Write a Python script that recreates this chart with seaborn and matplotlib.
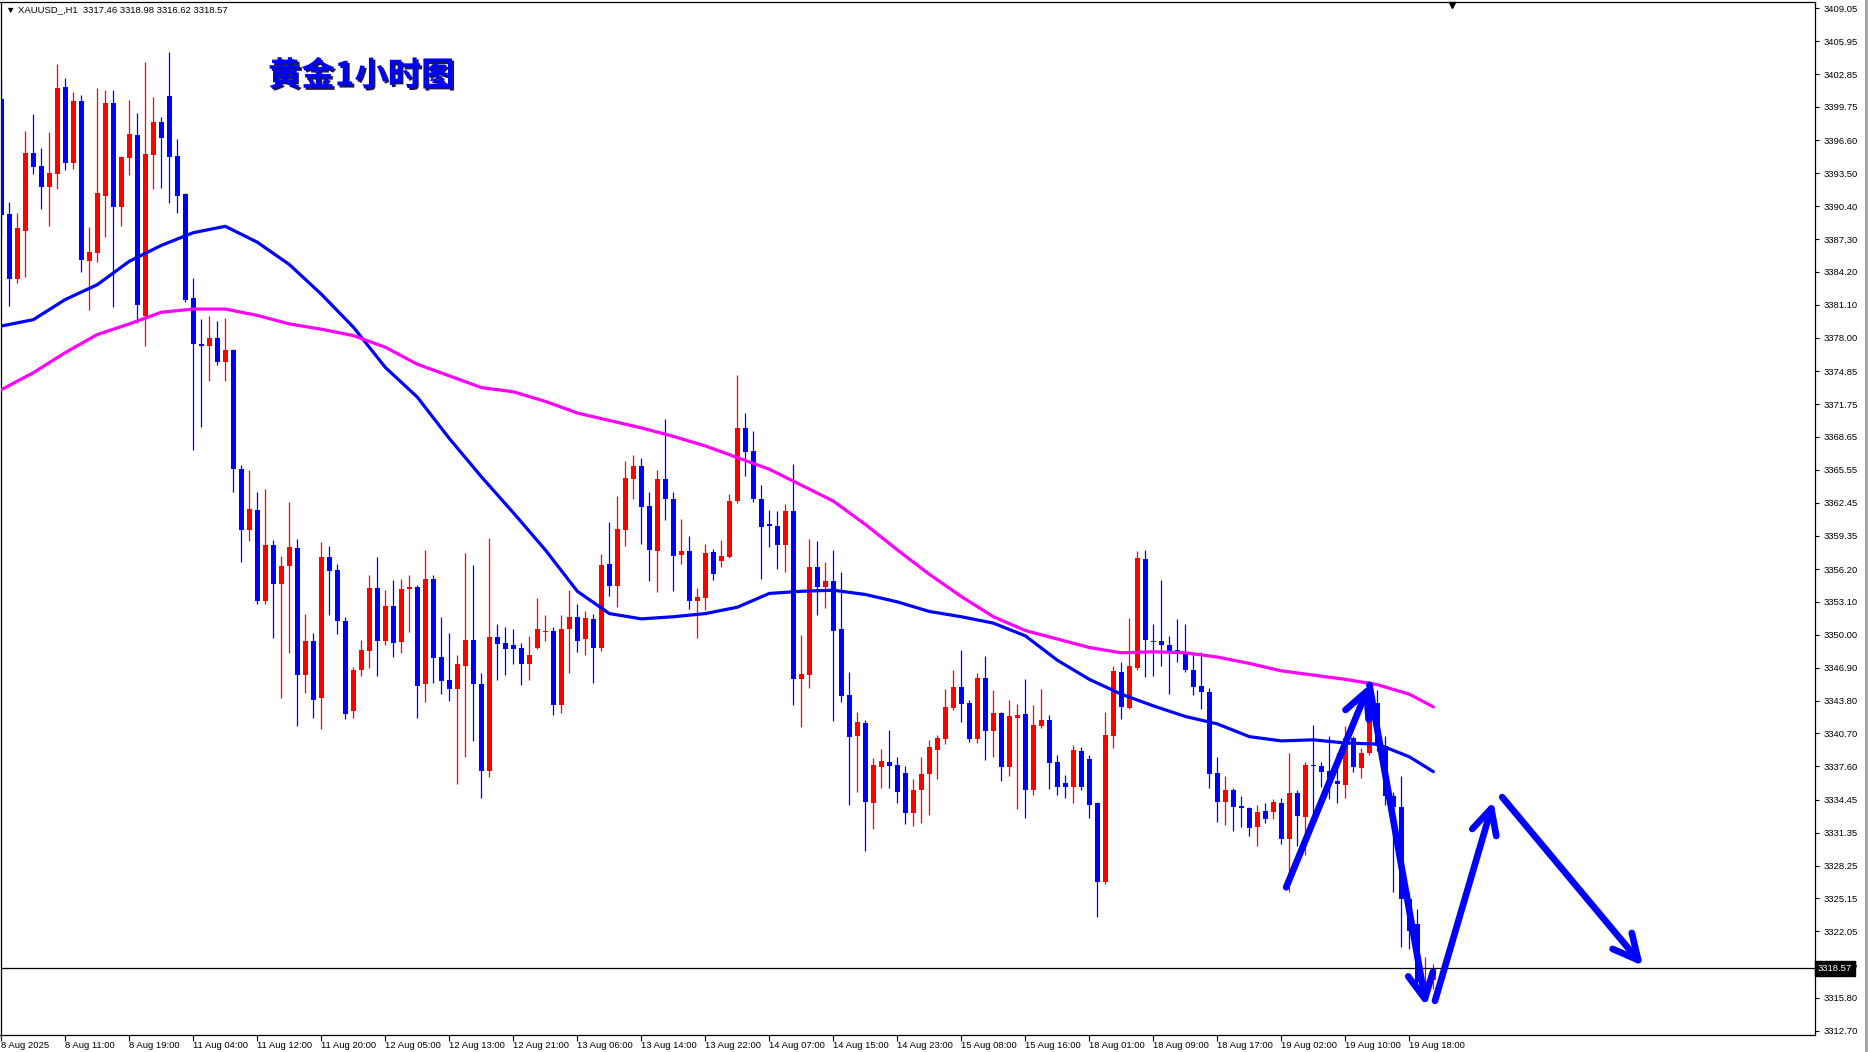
import numpy as np
import pandas as pd
import matplotlib
matplotlib.use("Agg")
import matplotlib.pyplot as plt
import matplotlib.patheffects as pe
import matplotlib.transforms as mtransforms
import seaborn as sns

# ---------------- data ----------------
opens = [3400.5, 3389.7, 3383.5, 3388.1, 3395.4, 3394.2, 3392.2, 3393.4, 3401.6, 3394.5,
         3400.3, 3385.2, 3386.0, 3391.4, 3400.1, 3390.3, 3394.9, 3397.1, 3380.0, 3395.2,
         3398.3, 3400.8, 3395.1, 3391.5, 3381.7, 3377.4, 3377.2, 3378.0, 3375.7, 3376.8,
         3365.6, 3359.9, 3361.8, 3353.2, 3358.5, 3354.8, 3356.5, 3358.2, 3346.2, 3349.4,
         3344.0, 3357.3, 3356.1, 3351.3, 3342.8, 3346.7, 3348.5, 3354.4, 3349.4, 3352.7,
         3349.3, 3354.3, 3354.5, 3345.4, 3355.3, 3347.9, 3345.7, 3344.9, 3347.1, 3349.5,
         3345.4, 3337.2, 3349.8, 3349.2, 3349.0, 3348.8, 3347.2, 3348.8, 3350.3, 3350.4,
         3343.4, 3350.5, 3351.7, 3349.6, 3351.5, 3348.8, 3356.7, 3354.6, 3359.9, 3364.7,
         3365.9, 3362.1, 3357.9, 3364.7, 3362.8, 3357.5, 3357.9, 3353.2, 3353.5, 3357.8,
         3357.0, 3357.3, 3362.6, 3369.5, 3367.3, 3362.8, 3360.4, 3360.3, 3358.5, 3361.7,
         3345.8, 3346.2, 3356.4, 3354.5, 3355.1, 3350.5, 3344.3, 3340.5, 3341.7, 3334.1,
         3337.5, 3338.0, 3337.7, 3337.0, 3333.2, 3335.4, 3336.9, 3339.1, 3340.2, 3343.1,
         3345.1, 3343.6, 3340.2, 3345.9, 3340.9, 3342.6, 3337.5, 3342.2, 3342.5, 3335.4,
         3341.4, 3342.0, 3338.0, 3336.0, 3335.7, 3339.0, 3338.3, 3334.1, 3326.7, 3340.5,
         3346.5, 3343.1, 3346.9, 3357.1, 3349.4, 3349.4, 3349.0, 3348.6, 3348.2, 3346.7,
         3345.2, 3344.6, 3337.0, 3334.2, 3335.4, 3333.9, 3333.7, 3331.9, 3333.4, 3333.3,
         3334.1, 3330.8, 3335.1, 3332.8, 3337.7, 3337.6, 3337.2, 3336.2, 3335.8, 3340.3,
         3337.4, 3338.9, 3343.6, 3339.5, 3334.8, 3333.8, 3325.1, 3322.7, 3317.1, 3317.46]
highs = [3402.5, 3390.8, 3389.8, 3397.5, 3399.1, 3395.9, 3397.4, 3403.8, 3402.5, 3401.2,
         3400.9, 3388.4, 3401.5, 3401.3, 3401.3, 3395.1, 3400.4, 3399.2, 3404.0, 3400.7,
         3398.8, 3404.9, 3396.7, 3391.6, 3383.6, 3379.8, 3380.0, 3379.6, 3379.9, 3376.9,
         3366.0, 3365.5, 3363.5, 3363.7, 3358.9, 3357.4, 3362.5, 3359.0, 3352.0, 3350.2,
         3358.7, 3358.4, 3356.7, 3351.7, 3347.0, 3349.5, 3355.6, 3357.3, 3354.2, 3355.2,
         3355.3, 3355.6, 3354.7, 3358.0, 3355.6, 3351.7, 3350.2, 3348.1, 3357.7, 3356.6,
         3346.4, 3359.1, 3351.0, 3350.7, 3350.5, 3349.2, 3349.9, 3353.5, 3351.9, 3350.7,
         3351.9, 3354.2, 3352.9, 3352.2, 3352.0, 3357.6, 3360.6, 3363.1, 3366.4, 3366.9,
         3366.7, 3363.5, 3365.5, 3370.3, 3363.5, 3360.9, 3359.3, 3354.4, 3358.6, 3358.1,
         3358.9, 3363.3, 3374.5, 3370.9, 3369.2, 3364.1, 3361.8, 3361.7, 3362.3, 3366.1,
         3350.0, 3359.0, 3358.8, 3356.9, 3358.0, 3355.9, 3346.5, 3342.7, 3342.0, 3338.4,
         3339.2, 3341.0, 3338.5, 3337.6, 3336.4, 3338.5, 3340.1, 3340.6, 3344.9, 3346.7,
         3348.6, 3343.9, 3346.4, 3348.0, 3344.8, 3342.7, 3343.9, 3343.5, 3345.8, 3343.4,
         3344.9, 3342.4, 3338.7, 3336.8, 3339.6, 3339.4, 3338.7, 3334.2, 3342.7, 3347.1,
         3347.4, 3351.6, 3357.9, 3358.0, 3351.0, 3355.2, 3349.9, 3351.5, 3351.0, 3348.3,
         3348.4, 3345.0, 3338.5, 3336.7, 3335.6, 3334.8, 3333.8, 3334.0, 3334.1, 3334.5,
         3334.6, 3338.9, 3335.4, 3338.0, 3341.5, 3338.0, 3340.5, 3338.9, 3341.4, 3340.5,
         3339.3, 3343.9, 3344.8, 3340.5, 3335.2, 3336.7, 3325.8, 3324.2, 3319.6, 3318.98]
lows = [3387.5, 3381.0, 3383.2, 3383.7, 3393.4, 3390.1, 3388.5, 3392.0, 3393.8, 3393.9,
        3384.2, 3380.6, 3385.1, 3387.5, 3380.9, 3388.5, 3393.3, 3379.4, 3377.2, 3392.0,
        3392.1, 3390.7, 3389.8, 3381.4, 3367.4, 3369.6, 3373.9, 3375.4, 3373.9, 3363.5,
        3356.9, 3358.8, 3352.9, 3352.9, 3349.7, 3344.0, 3348.3, 3341.4, 3344.5, 3342.2,
        3341.1, 3351.9, 3350.1, 3342.1, 3342.2, 3346.1, 3346.9, 3346.1, 3349.0, 3347.9,
        3348.3, 3350.3, 3342.2, 3343.7, 3345.5, 3344.4, 3343.8, 3335.9, 3338.5, 3340.0,
        3334.6, 3336.6, 3345.7, 3346.2, 3347.2, 3345.3, 3345.7, 3348.7, 3349.4, 3342.4,
        3342.6, 3346.4, 3348.4, 3348.1, 3345.5, 3348.5, 3353.7, 3352.6, 3358.4, 3362.8,
        3358.6, 3355.1, 3354.0, 3360.8, 3354.1, 3356.7, 3352.4, 3349.7, 3352.3, 3355.2,
        3356.4, 3357.2, 3362.4, 3365.0, 3362.5, 3355.3, 3358.3, 3356.2, 3355.9, 3343.4,
        3341.3, 3345.0, 3351.9, 3352.5, 3341.9, 3343.7, 3334.0, 3335.2, 3329.6, 3331.7,
        3335.6, 3335.6, 3334.1, 3332.2, 3332.0, 3332.3, 3333.0, 3336.4, 3339.7, 3342.9,
        3341.8, 3339.9, 3339.8, 3338.2, 3338.5, 3336.2, 3336.7, 3333.6, 3332.7, 3334.9,
        3341.2, 3335.5, 3334.9, 3334.6, 3334.1, 3335.4, 3332.7, 3323.4, 3326.5, 3339.3,
        3342.1, 3343.0, 3346.7, 3346.0, 3346.1, 3347.1, 3344.4, 3347.4, 3346.5, 3344.3,
        3343.0, 3335.6, 3332.4, 3332.1, 3331.5, 3331.9, 3331.0, 3330.1, 3332.3, 3332.6,
        3330.3, 3325.8, 3330.1, 3329.2, 3332.9, 3335.7, 3334.5, 3334.1, 3334.6, 3337.1,
        3336.5, 3338.7, 3339.0, 3334.0, 3325.8, 3320.6, 3320.4, 3316.9, 3316.6, 3316.62]
closes = [3389.6, 3383.5, 3388.3, 3395.4, 3394.1, 3392.2, 3393.5, 3401.5, 3394.5, 3400.3,
          3385.3, 3386.1, 3391.6, 3400.1, 3390.3, 3395.0, 3397.2, 3381.1, 3395.3, 3398.3,
          3396.8, 3395.0, 3391.4, 3381.6, 3377.4, 3377.2, 3378.0, 3375.7, 3376.8, 3365.6,
          3359.9, 3361.9, 3353.2, 3358.5, 3354.8, 3356.5, 3358.3, 3346.2, 3349.4, 3343.9,
          3357.3, 3356.0, 3351.3, 3342.5, 3346.7, 3348.6, 3354.4, 3349.4, 3352.7, 3349.2,
          3354.3, 3354.5, 3345.2, 3355.3, 3347.8, 3345.6, 3344.9, 3347.2, 3349.5, 3345.4,
          3337.2, 3349.8, 3349.1, 3348.7, 3348.7, 3347.2, 3348.1, 3350.5, 3350.4, 3343.4,
          3350.5, 3351.7, 3349.4, 3351.6, 3348.8, 3356.6, 3354.6, 3360.0, 3364.8, 3365.9,
          3362.0, 3358.0, 3364.7, 3362.8, 3357.4, 3357.9, 3353.2, 3353.6, 3357.7, 3355.7,
          3357.4, 3362.6, 3369.5, 3367.2, 3362.8, 3360.2, 3360.3, 3358.5, 3361.7, 3345.8,
          3346.3, 3356.4, 3354.5, 3355.1, 3350.4, 3344.2, 3340.4, 3341.8, 3334.2, 3337.7,
          3338.1, 3337.6, 3335.2, 3333.2, 3335.4, 3336.9, 3339.4, 3340.3, 3343.2, 3345.1,
          3343.5, 3340.2, 3345.9, 3340.9, 3342.6, 3337.5, 3342.3, 3342.4, 3335.4, 3341.5,
          3342.0, 3337.9, 3335.7, 3335.7, 3339.1, 3335.7, 3334.0, 3326.7, 3340.6, 3346.6,
          3343.2, 3347.1, 3357.2, 3349.5, 3349.3, 3349.0, 3348.4, 3348.2, 3346.7, 3345.1,
          3344.6, 3336.9, 3334.2, 3335.4, 3333.8, 3333.7, 3331.8, 3333.3, 3332.6, 3334.2,
          3330.8, 3335.1, 3332.9, 3337.7, 3337.6, 3337.1, 3336.1, 3335.9, 3340.3, 3337.5,
          3338.9, 3342.5, 3339.5, 3334.8, 3333.8, 3325.1, 3322.1, 3317.3, 3317.4, 3318.57]

time_labels = ["8 Aug 2025", "8 Aug 11:00", "8 Aug 19:00", "11 Aug 04:00", "11 Aug 12:00",
               "11 Aug 20:00", "12 Aug 05:00", "12 Aug 13:00", "12 Aug 21:00", "13 Aug 06:00",
               "13 Aug 14:00", "13 Aug 22:00", "14 Aug 07:00", "14 Aug 15:00", "14 Aug 23:00",
               "15 Aug 08:00", "15 Aug 16:00", "18 Aug 01:00", "18 Aug 09:00", "18 Aug 17:00",
               "19 Aug 02:00", "19 Aug 10:00", "19 Aug 18:00"]
bars_per_label = 8

price_ticks = [3409.05, 3405.95, 3402.85, 3399.75, 3396.60, 3393.50, 3390.40, 3387.30,
               3384.20, 3381.10, 3378.00, 3374.85, 3371.75, 3368.65, 3365.55, 3362.45,
               3359.35, 3356.20, 3353.10, 3350.00, 3346.90, 3343.80, 3340.70, 3337.60,
               3334.45, 3331.35, 3328.25, 3325.15, 3322.05, 3318.95, 3315.80, 3312.70]

ma_idx = [0, 4, 8, 12, 16, 20, 24, 28, 32, 36, 40, 44, 48, 52, 56, 60, 64, 68, 72, 76,
          80, 84, 88, 92, 96, 100, 104, 108, 112, 116, 120, 124, 128, 132, 136, 140, 144,
          148, 152, 156, 160, 164, 168, 172, 176, 179]
ma_fast = [3379.1, 3379.7, 3381.6, 3383.0, 3385.2, 3386.7, 3387.9, 3388.5, 3387.0, 3384.9,
           3382.1, 3379.0, 3375.2, 3372.4, 3368.5, 3364.9, 3361.5, 3358.0, 3354.1, 3352.0,
           3351.5, 3351.7, 3352.0, 3352.6, 3353.9, 3354.1, 3354.2, 3353.8, 3353.1, 3352.2,
           3351.7, 3351.1, 3349.9, 3347.6, 3345.8, 3344.4, 3343.3, 3342.3, 3341.6, 3340.4,
           3340.0, 3340.1, 3339.8, 3339.7, 3338.5, 3337.1]
ma_slow = [3373.1, 3374.7, 3376.6, 3378.3, 3379.3, 3380.4, 3380.7, 3380.7, 3380.1, 3379.3,
           3378.8, 3378.2, 3377.1, 3375.5, 3374.4, 3373.3, 3372.9, 3372.0, 3370.9, 3370.2,
           3369.5, 3368.7, 3367.8, 3366.7, 3365.6, 3364.1, 3362.6, 3360.4, 3358.0, 3355.7,
           3353.6, 3351.7, 3350.4, 3349.6, 3348.8, 3348.3, 3348.4, 3348.3, 3347.9, 3347.3,
           3346.6, 3346.2, 3345.8, 3345.3, 3344.4, 3343.2]

last_price = 3318.57
header_text = "\u25bc XAUUSD_,H1  3317.46 3318.98 3316.62 3318.57"
title_text = "黄金1小时图"

# hand-drawn forecast arrows: (start bar, start price) -> (end bar, end price)
arrow_paths = [((160.6, 3326.2), (171.0, 3345.3)),
               ((171.0, 3345.3), (178.1, 3315.0)),
               ((179.2, 3315.5), (186.5, 3334.3)),
               ((187.6, 3334.7), (205.2, 3318.8))]

# ---------------- styling ----------------
sns.set_theme(style="white")
plt.rcParams['font.family'] = ['Liberation Sans', 'DejaVu Sans']

UP = "#FF0000"
DOWN = "#0000FF"
W, H = 1868, 1052
fig = plt.figure(figsize=(W / 100, H / 100), dpi=100)
fig.patch.set_facecolor("white")
ax = fig.add_axes([0.5 / W, 17 / H, 1814.5 / W, 1033 / H])
ax.set_facecolor("white")

df = pd.DataFrame({"o": opens, "h": highs, "l": lows, "c": closes})
df["i"] = np.arange(len(df))
up = df["c"] >= df["o"]
cols = np.where(up, UP, DOWN)

# wicks and bodies
ax.vlines(df["i"], df["l"], df["h"], colors=cols, linewidth=0.9, zorder=2)
body = np.maximum((df["c"] - df["o"]).abs(), 0.1)
ax.bar(df["i"], body, bottom=np.minimum(df["o"], df["c"]), width=0.62,
       color=cols, linewidth=0, zorder=3)

# moving averages
sns.lineplot(x=ma_idx, y=ma_fast, ax=ax, color="#0000FF", linewidth=2.3, zorder=4)
sns.lineplot(x=ma_idx, y=ma_slow, ax=ax, color="#FF00FF", linewidth=2.3, zorder=4)

# current price line
ax.axhline(last_price, color="black", linewidth=0.9, zorder=5)

ax.set_xlim(-0.1, 226.7)
ax.set_ylim(3312.28, 3409.64)

# y axis on the right
ax.yaxis.tick_right()
ax.set_yticks(price_ticks)
ax.set_yticklabels([f"{v:.2f}" for v in price_ticks])
ax.tick_params(axis="y", which="both", right=True, left=False, length=3, width=0.8,
               pad=3, labelsize=6.8, colors="black", direction="out")

# x axis
xt = list(range(0, bars_per_label * len(time_labels), bars_per_label))
ax.set_xticks(xt)
ax.set_xticklabels(time_labels)
ax.tick_params(axis="x", which="both", bottom=True, length=4, width=0.8, pad=0.5,
               labelsize=6.8, colors="black", direction="out")
for lab in ax.get_xticklabels():
    lab.set_horizontalalignment("left")

for sp in ax.spines.values():
    sp.set_color("black")
    sp.set_linewidth(0.9)
ax.grid(False)
ax.set_xlabel("")
ax.set_ylabel("")

# current price box on the price scale
trans = mtransforms.blended_transform_factory(ax.transAxes, ax.transData)
ax.text(1.0015, last_price, "3318.57", transform=trans, ha="left", va="center",
        color="white", fontsize=6.8, clip_on=False, zorder=20,
        bbox=dict(facecolor="black", edgecolor="black", boxstyle="square,pad=0.3"))

# shift marker at the top
ax.plot([181.3], [3409.35], marker="v", color="black", markersize=5, clip_on=False, zorder=20)

# arrows
for (s, e) in arrow_paths:
    ax.annotate("", xy=e, xytext=s, annotation_clip=False,
                arrowprops=dict(arrowstyle="->,head_length=0.9,head_width=0.45",
                                color="#0000FF", lw=4.8, mutation_scale=20,
                                shrinkA=0, shrinkB=0, capstyle="round", joinstyle="round"),
                zorder=6)

# header and title
fig.text(6 / W, 1 - 10 / H, header_text, fontsize=6.8, ha="left", va="center", color="black")
fig.text(268 / W, 1 - 76 / H, title_text, fontsize=24, fontweight="bold", color="#0000FF",
         family=["Noto Sans CJK SC", "DejaVu Sans"], ha="left", va="center",
         path_effects=[pe.withSimplePatchShadow(offset=(1.5, -1.5), shadow_rgbFace="#000040",
                                                 alpha=0.9)])

# right window edge
fig.add_artist(plt.Line2D([1865.5 / W, 1865.5 / W], [0, 1], transform=fig.transFigure,
                          color="#a0a0a0", linewidth=2))

fig.savefig("out.png", dpi=100, facecolor="white")
